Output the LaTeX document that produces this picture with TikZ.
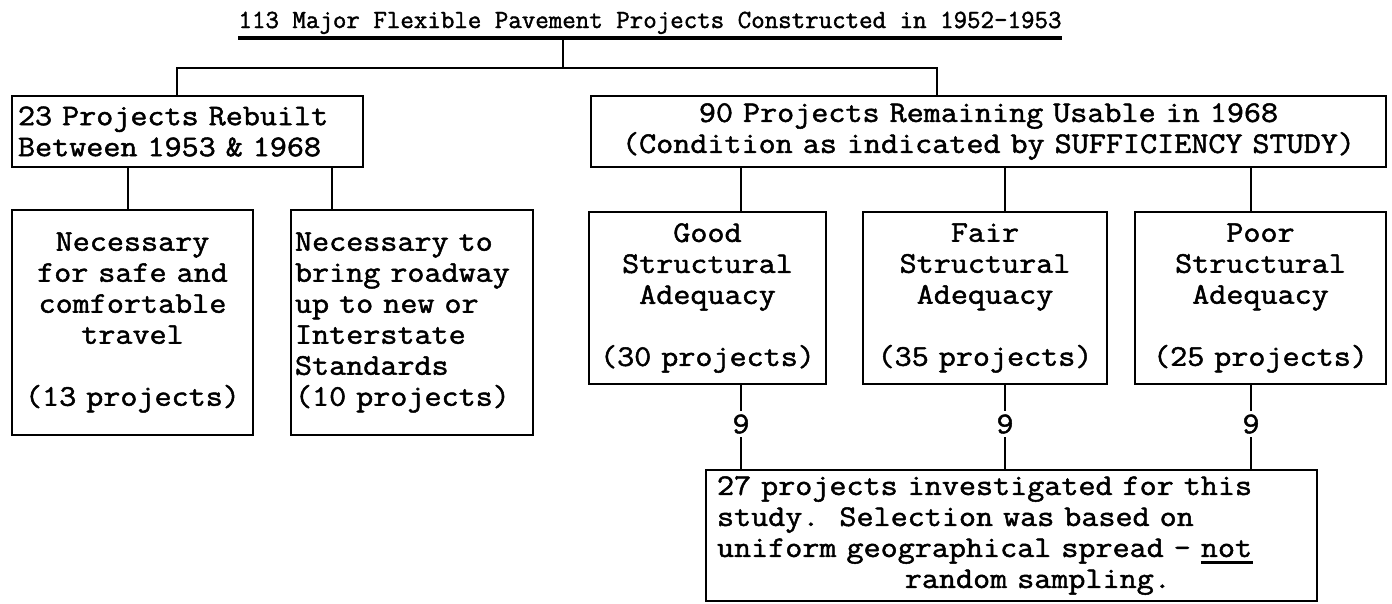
\documentclass[tikz,border=0pt]{standalone}
\usepackage{fontspec}
\newfontfamily\tw[FakeBold=1.6,FakeStretch=1.105]{Latin Modern Mono}
\newfontfamily\twhead[FakeBold=1.6]{Latin Modern Mono}
\frenchspacing
\begin{document}
\begin{tikzpicture}[x=1pt,y=-1pt,
  txt/.style={font=\tw\fontsize{30}{31}\selectfont},
  box/.style={txt, draw, line width=2.5pt, inner ysep=0pt},
  conn/.style={line width=2.5pt},
  digit/.style={txt, inner sep=0pt, minimum height=26pt}]
\useasboundingbox (0,0) rectangle (1392,603);

% heading with its underline
\node[font=\twhead\fontsize{26.2}{28}\selectfont, inner sep=0pt, anchor=base] (title) at (650,28)
  {113 Major Flexible Pavement Projects Constructed in 1952-1953};
\coordinate (ul) at ([yshift=-10pt]title.base);
\draw[line width=3.5pt] (ul -| title.west) -- (ul -| title.east);

% first split
\node[box, text width=339pt, inner xsep=6pt, align=left, minimum height=71pt] (b1) at (187.5,131.5)
  {23 Projects Rebuilt\\Between 1953 \& 1968};
\node[box, text width=785pt, inner xsep=5pt, align=center, minimum height=71pt] (b2) at (988.5,131.5)
  {90 Projects Remaining Usable in 1968\\(Condition as indicated by SUFFICIENCY STUDY)};

% reasons for rebuilding
\node[box, text width=231pt, inner xsep=5pt, align=center, minimum height=225pt] (na) at (132.5,322.5)
  {Necessary\\for safe and\\comfortable\\travel\\\strut\\(13 projects)};
\node[box, text width=234pt, inner xsep=4pt, align=left, minimum height=225pt] (nb) at (412,322.5)
  {Necessary to\\bring roadway\\up to new or\\Interstate\\Standards\\(10 projects)};

% structural adequacy classes
\node[box, text width=227pt, inner xsep=5pt, align=center, minimum height=172pt] (good) at (707.5,298)
  {Good\\Structural\\Adequacy\\\strut\\(30 projects)};
\node[box, text width=234pt, inner xsep=5pt, align=center, minimum height=172pt] (fair) at (985,298)
  {Fair\\Structural\\Adequacy\\\strut\\(35 projects)};
\node[box, text width=241pt, inner xsep=5pt, align=center, minimum height=172pt] (poor) at (1260.5,298)
  {Poor\\Structural\\Adequacy\\\strut\\(25 projects)};

% sample taken for the study
\node[box, text width=589pt, inner xsep=11pt, align=left, minimum height=131pt] (study) at (1011.5,535.5)
  {27 projects investigated for this\\study.~~Selection was based on\\uniform geographical spread - \rlap{\rule[-7pt]{52pt}{2.5pt}}not\\\phantom{xxxxxxxxxxx}random sampling.};

% counts taken from each class
\node[digit] (d1) at (741,424) {9};
\node[digit] (d2) at (1005,424) {9};
\node[digit] (d3) at (1251,424) {9};

% connector positions
\coordinate (split) at (563,68);
\coordinate (jl) at (177,68);
\coordinate (jr) at (937,68);
\coordinate (xa) at (128,0);
\coordinate (xb) at (332,0);

\draw[conn] (ul -| split) -- (split);
\draw[conn] (jl |- b1.north) -- (jl) -- (jr) -- (jr |- b2.north);
\draw[conn] (b1.south -| xa) -- (na.north -| xa);
\draw[conn] (b1.south -| xb) -- (nb.north -| xb);
\draw[conn] (b2.south -| d1) -- (good.north -| d1);
\draw[conn] (b2.south -| d2) -- (fair.north -| d2);
\draw[conn] (b2.south -| d3) -- (poor.north -| d3);
\draw[conn] (good.south -| d1) -- (d1.north);
\draw[conn] (fair.south -| d2) -- (d2.north);
\draw[conn] (poor.south -| d3) -- (d3.north);
\draw[conn] (d1.south) -- (study.north -| d1);
\draw[conn] (d2.south) -- (study.north -| d2);
\draw[conn] (d3.south) -- (study.north -| d3);
\end{tikzpicture}
\end{document}
